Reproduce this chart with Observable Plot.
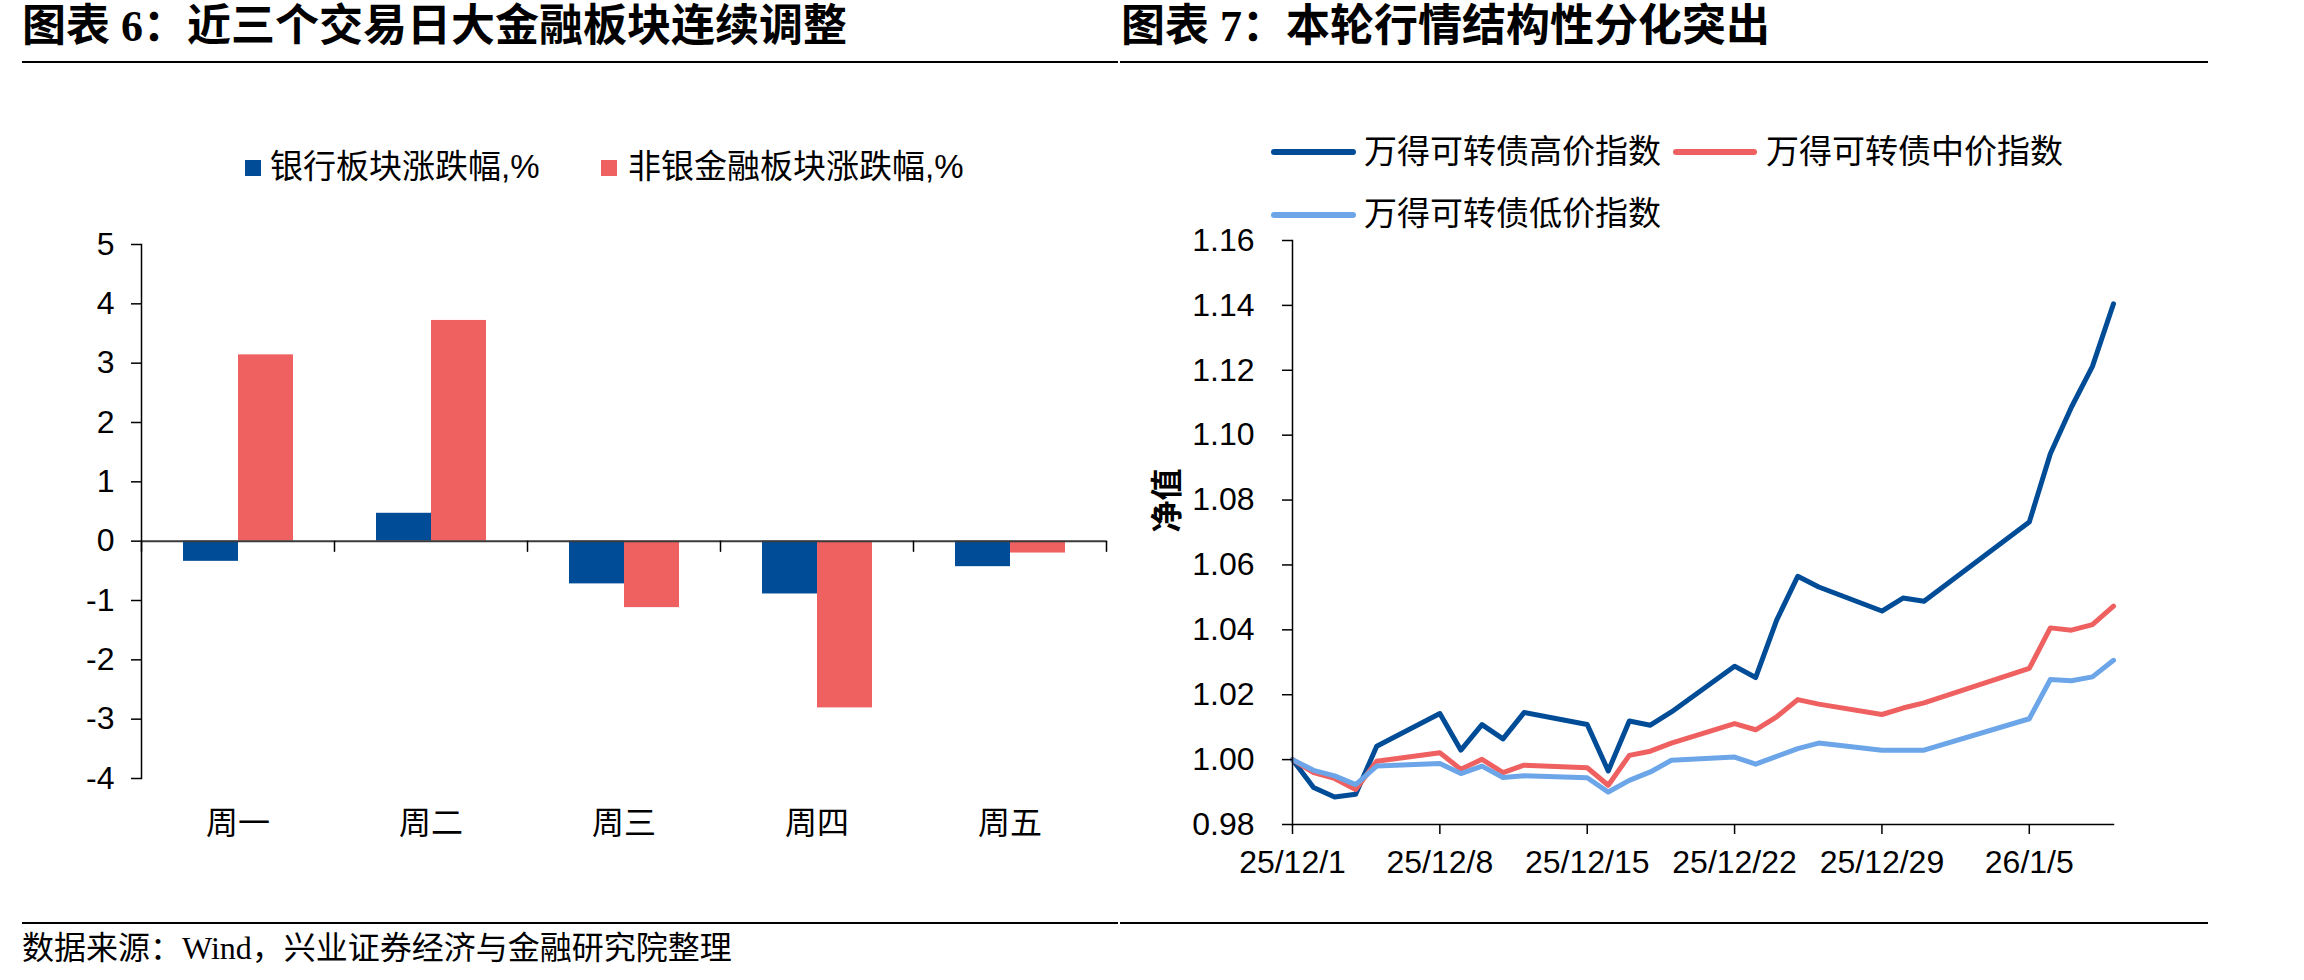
<!DOCTYPE html>
<html>
<head>
<meta charset="utf-8">
<script src="https://cdn.jsdelivr.net/npm/d3@7"></script>
<script src="https://cdn.jsdelivr.net/npm/@observablehq/plot@0.6"></script>
<style>
  html, body { margin: 0; padding: 0; background: #fff; }
  #page { position: relative; width: 2304px; height: 980px; overflow: hidden; background: #fff; color: #000; }
  .abs { position: absolute; white-space: nowrap; }
  .title { font-family: "Liberation Serif", "Noto Sans CJK SC", serif; font-weight: bold; font-size: 44px; line-height: 44px; }
  .legend { font-family: "Liberation Sans", "Noto Sans CJK SC", sans-serif; font-size: 33px; line-height: 33px; }
  .source { font-family: "Liberation Serif", "Noto Sans CJK SC", serif; font-size: 32px; line-height: 32px; }
  .rule { position: absolute; height: 2px; background: #000; }
  .sq { position: absolute; width: 16px; height: 16px; }
  .sw { position: absolute; height: 6px; border-radius: 3px; }
</style>
</head>
<body>
<div id="page"></div>
<script>
// ---------- Chart 6 data ----------
const categories = ["周一", "周二", "周三", "周四", "周五"];
const bankChange = [-0.34, 0.47, -0.72, -0.89, -0.43];
const nonBankChange = [3.14, 3.72, -1.12, -2.81, -0.20];
const barSeries = ["银行板块涨跌幅,%", "非银金融板块涨跌幅,%"];
const barColors = ["#004C97", "#EF6161"];
const barYTicks = [-4, -3, -2, -1, 0, 1, 2, 3, 4, 5];

// ---------- Chart 7 data ----------
const tradeDates = [
  "2025-12-01", "2025-12-02", "2025-12-03", "2025-12-04", "2025-12-05",
  "2025-12-08", "2025-12-09", "2025-12-10", "2025-12-11", "2025-12-12",
  "2025-12-15", "2025-12-16", "2025-12-17", "2025-12-18", "2025-12-19",
  "2025-12-22", "2025-12-23", "2025-12-24", "2025-12-25", "2025-12-26",
  "2025-12-29", "2025-12-30", "2025-12-31",
  "2026-01-05", "2026-01-06", "2026-01-07", "2026-01-08", "2026-01-09"
];
const highPrice = [
  1.0000, 0.9914, 0.9885, 0.9893, 1.0041,
  1.0142, 1.0029, 1.0108, 1.0064, 1.0145,
  1.0108, 0.9965, 1.0119, 1.0106, 1.0147,
  1.0288, 1.0253, 1.0430, 1.0565, 1.0532,
  1.0458, 1.0498, 1.0488,
  1.0732, 1.0943, 1.1086, 1.1212, 1.1405
];
const midPrice = [
  1.0000, 0.9960, 0.9942, 0.9908, 0.9995,
  1.0021, 0.9970, 1.0001, 0.9960, 0.9983,
  0.9975, 0.9921, 1.0013, 1.0026, 1.0051,
  1.0111, 1.0092, 1.0132, 1.0185, 1.0171,
  1.0139, 1.0159, 1.0175,
  1.0281, 1.0406, 1.0399, 1.0416, 1.0473
];
const lowPrice = [
  1.0000, 0.9967, 0.9950, 0.9923, 0.9980,
  0.9988, 0.9957, 0.9980, 0.9945, 0.9950,
  0.9944, 0.9900, 0.9936, 0.9962, 0.9998,
  1.0008, 0.9986, 1.0010, 1.0034, 1.0051,
  1.0029, 1.0029, 1.0029,
  1.0126, 1.0247, 1.0243, 1.0255, 1.0306
];
const lineSeries = ["万得可转债高价指数", "万得可转债中价指数", "万得可转债低价指数"];
const lineColors = ["#004C97", "#EF6161", "#6CA6E8"];
const lineXTicks = ["2025-12-01", "2025-12-08", "2025-12-15", "2025-12-22", "2025-12-29", "2026-01-05"];
const lineXDomain = ["2025-12-01", "2026-01-09"];
const lineYTicks = [0.98, 1.00, 1.02, 1.04, 1.06, 1.08, 1.10, 1.12, 1.14, 1.16];
const lineYLabel = "净值";

// ---------- texts ----------
const title6 = "图表 6：近三个交易日大金融板块连续调整";
const title7 = "图表 7：本轮行情结构性分化突出";
const sourceText = "数据来源：Wind，兴业证券经济与金融研究院整理";

const page = document.getElementById("page");
function addDiv(cls, text, left, top, extra) {
  const d = document.createElement("div");
  d.className = "abs " + cls;
  d.textContent = text;
  d.style.left = left + "px";
  d.style.top = top + "px";
  if (extra) Object.assign(d.style, extra);
  page.appendChild(d);
  return d;
}
function addBox(cls, left, top, width, color) {
  const d = document.createElement("div");
  d.className = cls;
  d.style.left = left + "px";
  d.style.top = top + "px";
  if (width != null) d.style.width = width + "px";
  d.style.background = color;
  page.appendChild(d);
}

// titles and rules
addDiv("title", title6, 22, 5);
addDiv("title", title7, 1121, 5);
addBox("rule", 22, 61, 1096, "#000");
addBox("rule", 1120, 61, 1088, "#000");
addBox("rule", 22, 922, 1096, "#000");
addBox("rule", 1120, 922, 1088, "#000");
addDiv("source", sourceText, 22, 932);

// legend chart 6
addBox("sq", 245, 160, null, barColors[0]);
addDiv("legend", barSeries[0], 270, 150);
addBox("sq", 601, 160, null, barColors[1]);
addDiv("legend", barSeries[1], 628, 150);

// legend chart 7
addBox("sw", 1271, 149, 85, lineColors[0]);
addDiv("legend", lineSeries[0], 1364, 135);
addBox("sw", 1673, 149, 84, lineColors[1]);
addDiv("legend", lineSeries[1], 1766, 135);
addBox("sw", 1271, 212, 85, lineColors[2]);
addDiv("legend", lineSeries[2], 1364, 197);

// ---------- Chart 6: grouped bars ----------
const barRows = categories.flatMap((c, i) => [
  {day: c, series: barSeries[0], value: bankChange[i]},
  {day: c, series: barSeries[1], value: nonBankChange[i]}
]);
const tickShape = {draw(context, l) { context.moveTo(0, 0); context.lineTo(0, -l); }};
const fontStack = '"Liberation Sans", "Noto Sans CJK SC", sans-serif';

const chart6 = Plot.plot({
  width: 1152, height: 660,
  marginLeft: 140, marginRight: 45, marginTop: 44, marginBottom: 82,
  style: {fontFamily: fontStack, fontSize: "32px", color: "#000", background: "transparent", overflow: "visible"},
  fx: {domain: categories, padding: 0, label: null},
  x: {domain: barSeries, paddingInner: 0, paddingOuter: 0.74, axis: null},
  y: {domain: [-4, 5]},
  color: {domain: barSeries, range: barColors},
  marks: [
    Plot.barY(barRows, {fx: "day", x: "series", y: "value", fill: "series"}),
    Plot.ruleY([0], {stroke: "#3a3a3a", strokeWidth: 2}),
    Plot.vector([0], {y: d => d, frameAnchor: "left", length: 10, rotate: 180, anchor: "start", shape: tickShape, stroke: "#000", strokeWidth: 1.5}),
    Plot.vector([0], {y: d => d, frameAnchor: "right", facetAnchor: "right", length: 10, rotate: 180, anchor: "start", shape: tickShape, stroke: "#000", strokeWidth: 1.5}),
    Plot.frame({anchor: "left", facetAnchor: "left", stroke: "#000", strokeWidth: 1.5}),
    Plot.axisY({ticks: barYTicks, tickFormat: d => String(d), tickSize: 10, tickPadding: 17, strokeWidth: 1.5, fontSize: 32, label: null}),
    Plot.axisFx({anchor: "bottom", tickSize: 0, tickPadding: 33, fontSize: 32, label: null})
  ]
});
chart6.style.position = "absolute";
chart6.style.left = "0px";
chart6.style.top = "200px";
page.appendChild(chart6);

// ---------- Chart 7: lines ----------
const lineRows = [
  ...tradeDates.map((d, i) => ({date: new Date(d), value: highPrice[i], series: lineSeries[0]})),
  ...tradeDates.map((d, i) => ({date: new Date(d), value: midPrice[i], series: lineSeries[1]})),
  ...tradeDates.map((d, i) => ({date: new Date(d), value: lowPrice[i], series: lineSeries[2]}))
];
const chart7 = Plot.plot({
  width: 1184, height: 660,
  marginLeft: 172, marginRight: 191, marginTop: 20, marginBottom: 56,
  style: {fontFamily: fontStack, fontSize: "32px", color: "#000", background: "transparent", overflow: "visible"},
  x: {type: "utc", domain: lineXDomain.map(d => new Date(d))},
  y: {domain: [lineYTicks[0], lineYTicks[lineYTicks.length - 1]]},
  color: {domain: lineSeries, range: lineColors},
  marks: [
    Plot.lineY(lineRows, {x: "date", y: "value", stroke: "series", z: "series", strokeWidth: 5}),
    Plot.frame({anchor: "left", stroke: "#000", strokeWidth: 1.5}),
    Plot.frame({anchor: "bottom", stroke: "#000", strokeWidth: 1.5}),
    Plot.axisY({ticks: lineYTicks, tickFormat: d3.format(".2f"), tickSize: 10, tickPadding: 28, strokeWidth: 1.5, fontSize: 32, label: null}),
    Plot.axisX({ticks: lineXTicks.map(d => new Date(d)), tickFormat: d3.utcFormat("%y/%-m/%-d"), tickSize: 10, tickPadding: 16, strokeWidth: 1.5, fontSize: 32, label: null}),
    Plot.text([lineYLabel], {text: d => d, frameAnchor: "left", dx: -125, rotate: -90, fontWeight: "bold", fontSize: 32})
  ]
});
chart7.style.position = "absolute";
chart7.style.left = "1120px";
chart7.style.top = "220px";
page.appendChild(chart7);
</script>
</body>
</html>
